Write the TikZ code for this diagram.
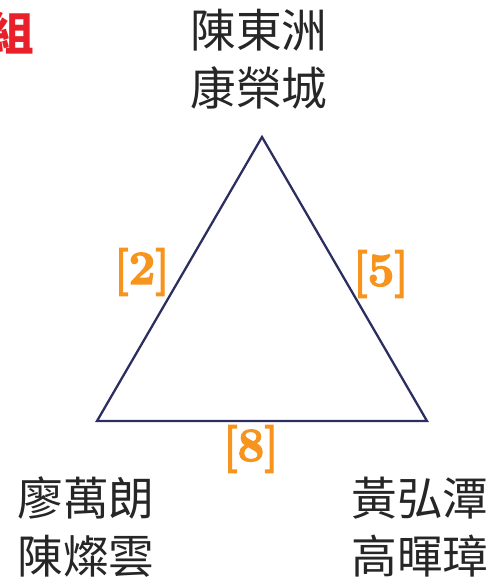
\documentclass[tikz,border=0pt]{standalone}
\usepackage{fontspec}
\newfontfamily\cjk{Noto Sans CJK TC}
\newfontfamily\tagfont[BoldFeatures={FakeBold=3}]{Latin Modern Roman}
\usepackage{tikz}
\usetikzlibrary{positioning}
\definecolor{navy}{HTML}{2B2E5E}
\definecolor{tag}{HTML}{F7941D}
\definecolor{grp}{HTML}{E8202A}

\begin{document}
\begin{tikzpicture}[
    x=0.02cm, y=-0.02cm,
    member/.style={align=center, font=\cjk\fontsize{26}{33}\selectfont, text=black!85, inner sep=0pt},
    weight/.style={font=\tagfont\bfseries\fontsize{27}{27}\selectfont, text=tag, inner sep=0pt},
    side/.style={draw=navy, line width=1.3pt}
]
\useasboundingbox (0,0) rectangle (491,578);
\node[font=\cjk\bfseries\fontsize{26}{26}\selectfont, text=grp, anchor=east, inner sep=0pt] (title) at (35,33) {組};
% corners of the triangle
\coordinate (top) at (262,137);
\coordinate (bl) at (97,421);
\coordinate (br) at (427,421);
\draw[side, line join=miter] (top) -- (bl) -- (br) -- cycle;
% members
\node[member] (ta) at (259,59) {陳東洲\\康榮城};
\node[member] (la) at (86,527) {廖萬朗\\陳燦雲};
\node[member] (ra) at (420,527) {黃弘潭\\高暉璋};
% edge weights
\node[weight] (w2) at (142,272) {[2]};
\node[weight] (w5) at (381,274) {[5]};
\node[weight] (w8) at (251,449) {[8]};
\end{tikzpicture}
\end{document}
